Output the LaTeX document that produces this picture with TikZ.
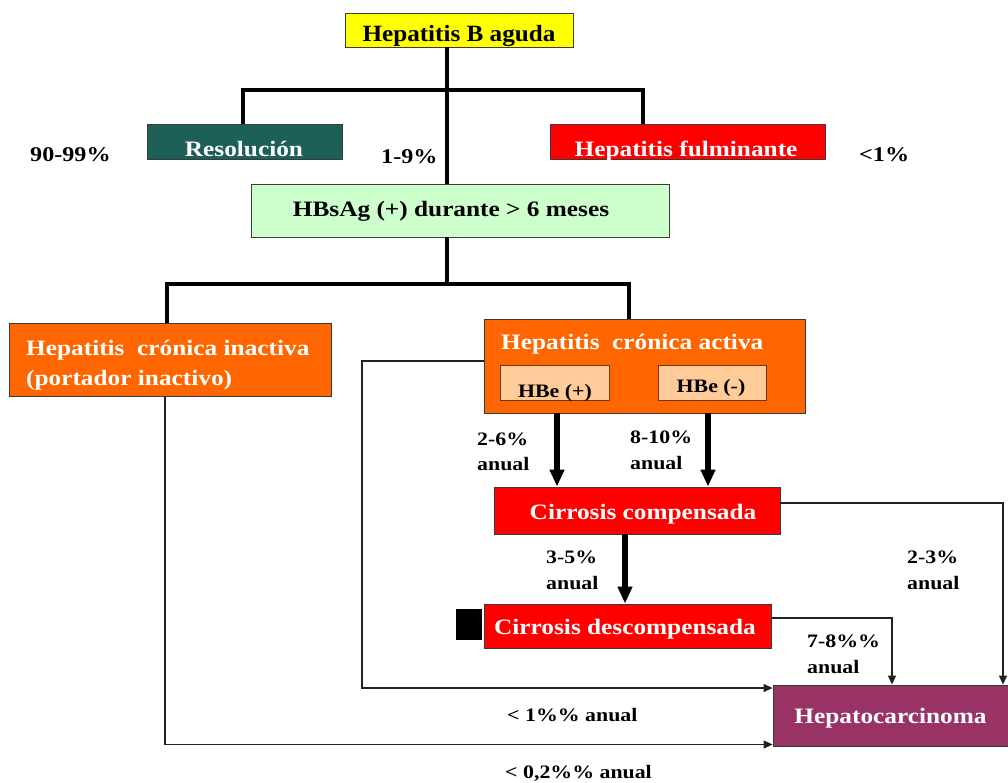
\documentclass[tikz,border=0pt]{standalone}
\usepackage{fontspec}
\setmainfont{Liberation Serif}[FakeStretch=1.15]
\newfontfamily\titlefont{Liberation Serif}[FakeStretch=1.08]
\usetikzlibrary{arrows.meta}

\definecolor{edge}{HTML}{3A3A3A}
\definecolor{acute}{HTML}{FFFF00}
\definecolor{resolved}{HTML}{1D6058}
\definecolor{severe}{HTML}{FF0000}
\definecolor{chronic}{HTML}{FF6600}
\definecolor{antigen}{HTML}{CCFFCC}
\definecolor{hbe}{HTML}{FFCC99}
\definecolor{hbeedge}{HTML}{6B3A10}
\definecolor{tumour}{HTML}{993366}
\definecolor{wire}{HTML}{222222}

\begin{document}
\begin{tikzpicture}[x=1pt,y=-1pt,
  box/.style={draw=edge, line width=0.8pt, inner sep=0pt},
  big/.style={font=\bfseries\fontsize{22}{26}\selectfont, inner sep=0pt, anchor=base},
  bigleft/.style={big, anchor=base west},
  small/.style={font=\bfseries\fontsize{19}{23}\selectfont, inner sep=0pt, anchor=base west},
  pct/.style={font=\bfseries\fontsize{21}{25}\selectfont, inner sep=0pt, anchor=base west},
  trunk/.style={line width=4pt},
  bigarrow/.style={line width=5.5pt, -{Triangle[width=14pt,length=17pt]}},
  thinarrow/.style={draw=wire, line width=1.2pt, -{Triangle[width=8pt,length=9pt]}},
]
\useasboundingbox (0,0) rectangle (1008,783);

% boxes
\node[box, fill=acute, minimum width=228, minimum height=34] (hba) at (459,30) {};
\node[box, fill=resolved, minimum width=195, minimum height=35] (res) at (244.5,141.5) {};
\node[box, fill=severe, minimum width=275, minimum height=35] (ful) at (687.5,141.5) {};
\node[box, fill=antigen, minimum width=418, minimum height=53] (hbs) at (460,210.5) {};
\node[box, fill=chronic, minimum width=322, minimum height=73] (ina) at (170,359.5) {};
\node[box, fill=chronic, minimum width=321, minimum height=94] (act) at (644.5,366) {};
\node[box, draw=hbeedge, fill=hbe, minimum width=109, minimum height=35] (hbp) at (554.5,382.5) {};
\node[box, draw=hbeedge, fill=hbe, minimum width=108, minimum height=35] (hbm) at (712,382.5) {};
\node[box, fill=severe, minimum width=286, minimum height=47] (cc) at (637,510.5) {};
\node[box, fill=severe, minimum width=287, minimum height=44] (cd) at (627.5,626) {};
\node[fill=black, inner sep=0pt, minimum width=26, minimum height=31] (sq) at (469,624.5) {};
\node[box, fill=tumour, minimum width=236, minimum height=61] (hcc) at (891,715.5) {};

% box texts
\node[big, font=\titlefont\bfseries\fontsize{23.3}{27}\selectfont] (t-hba) at (459,41.5) {Hepatitis B aguda};
\node[big, text=white] (t-res) at (244,157) {Resolución};
\node[big, text=white] (t-ful) at (686,157) {Hepatitis fulminante};
\node[big] (t-hbs) at (451,217) {HBsAg (+) durante > 6 meses};
\node[bigleft, text=white] (t-ina1) at (26,355.5) {Hepatitis~ crónica inactiva};
\node[bigleft, text=white] (t-ina2) at (26,385.5) {(portador inactivo)};
\node[bigleft, text=white] (t-act) at (501,349) {Hepatitis~ crónica activa};
\node[small, anchor=base] (t-hbp) at (555,397) {HBe (+)};
\node[small, anchor=base] (t-hbm) at (711,392) {HBe (-)};
\node[big, text=white] (t-cc) at (643,519) {Cirrosis compensada};
\node[big, text=white] (t-cd) at (625,634) {Cirrosis descompensada};
\node[big, text=white] (t-hcc) at (890.5,723) {Hepatocarcinoma};

% rates
\node[pct] (r-res) at (30,162) {90-99\%};
\node[pct] (r-chr) at (381,164) {1-9\%};
\node[pct] (r-ful) at (859,162) {<1\%};
\node[small] (r-p1) at (477,445) {2-6\%};
\node[small] (r-p2) at (477,470) {anual};
\node[small] (r-m1) at (630,443) {8-10\%};
\node[small] (r-m2) at (630,469) {anual};
\node[small] (r-c1) at (546,563) {3-5\%};
\node[small] (r-c2) at (546,589) {anual};
\node[small] (r-h1) at (907,563) {2-3\%};
\node[small] (r-h2) at (907,589) {anual};
\node[small] (r-d1) at (807,647) {7-8\%\%};
\node[small] (r-d2) at (807,673) {anual};
\node[small] (r-a) at (507,721) {< 1\%\% anual};
\node[small] (r-i) at (505,778) {< 0,2\%\% anual};

% branching from the acute infection
\coordinate (fork1) at (447,90);
\draw[trunk] ([xshift=-12pt]hba.south) -- ([xshift=-13pt]hbs.north);
\draw[trunk] ([xshift=-2pt]res.north) |- (fork1) -| ([xshift=-44.5pt]ful.north);

% branching from chronic carriage
\coordinate (fork2) at (447,284);
\draw[trunk] ([xshift=-13pt]hbs.south) -- (fork2);
\draw[trunk] ([xshift=-3pt]ina.north) |- (fork2) -| ([xshift=-15.5pt]act.north);

% progression to cirrhosis
\draw[bigarrow] ([xshift=-87.5pt]act.south) -- ([xshift=-80pt]cc.north);
\draw[bigarrow] ([xshift=63.5pt]act.south) -- ([xshift=71pt]cc.north);
\draw[bigarrow] ([xshift=-12pt]cc.south) -- ([xshift=-2.5pt]cd.north);

% progression to hepatocellular carcinoma
\draw[thinarrow] ([yshift=7.5pt]cc.east) -| ([xshift=112pt]hcc.north);
\draw[thinarrow] ([yshift=8pt]cd.east) -| ([xshift=1pt]hcc.north);
\coordinate (bend) at (362,688);
\draw[thinarrow] ([yshift=5pt]act.west) -| (bend) -- ([yshift=27.5pt]hcc.west);
\draw[thinarrow] ([xshift=-5pt]ina.south) |- ([yshift=-29pt]hcc.west);
\end{tikzpicture}
\end{document}
